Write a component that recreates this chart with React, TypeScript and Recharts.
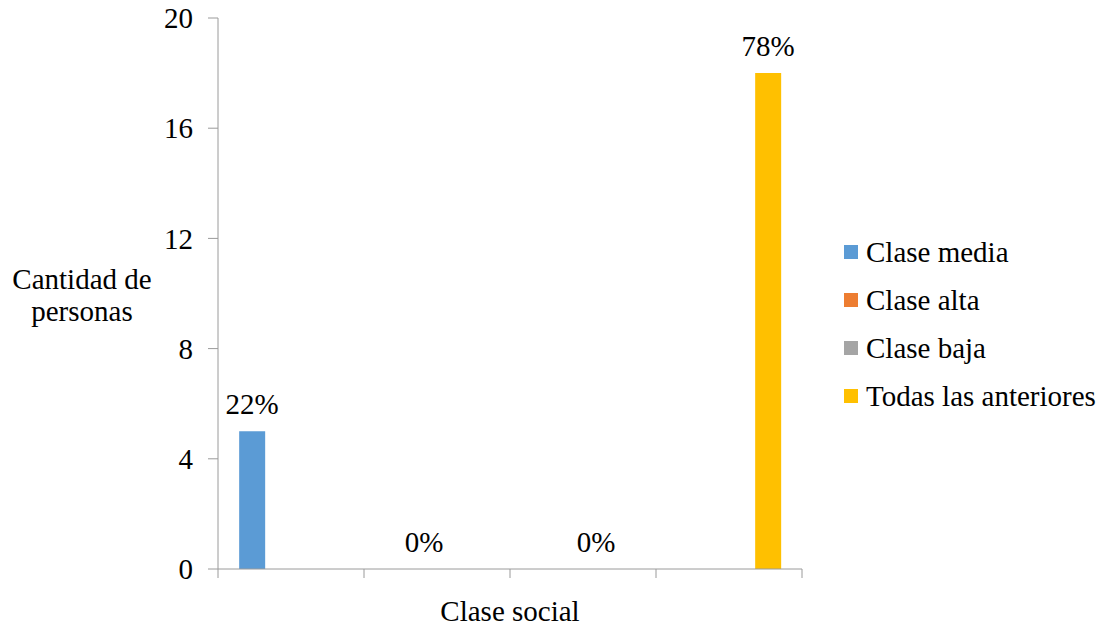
import React from 'react'
import {
  BarChart,
  Bar,
  XAxis,
  YAxis,
  Legend,
  LabelList,
  Label,
} from 'recharts'

const categories = ['A', 'B', 'C', 'D']
const claseMedia = [5, null, null, null]
const claseAlta = [null, 0, null, null]
const claseBaja = [null, null, 0, null]
const todas = [null, null, null, 18]
const yTicks = [0, 4, 8, 12, 16, 20]

const series = [
  { key: 'media', name: 'Clase media', color: '#5B9BD5', values: claseMedia, pct: '22%' },
  { key: 'alta', name: 'Clase alta', color: '#ED7D31', values: claseAlta, pct: '0%' },
  { key: 'baja', name: 'Clase baja', color: '#A5A5A5', values: claseBaja, pct: '0%' },
  { key: 'todas', name: 'Todas las anteriores', color: '#FFC000', values: todas, pct: '78%' },
]

const data = categories.map((cat, i) => {
  const row: Record<string, any> = { cat }
  series.forEach((s) => {
    row[s.key] = s.values[i]
  })
  return row
})

const FONT = '"Liberation Serif", "Times New Roman", serif'
const FS = 29
const AXIS = '#9a9a9a'

const makeLabel = (pct: string) => (props: any) => {
  const { x, y, width, value } = props
  if (value === null || value === undefined) return null
  return (
    <text
      x={Number(x) + Number(width) / 2}
      y={Number(y) - 17}
      textAnchor="middle"
      fontFamily={FONT}
      fontSize={FS}
      fill="#000"
    >
      {pct}
    </text>
  )
}

// tick marks sit on the category boundaries, like Excel
const EdgeTick = (props: any) => {
  const { x, y, width, visibleTicksCount, index } = props
  const band = Number(width) / Number(visibleTicksCount)
  const left = Number(x) - band / 2
  const top = Number(y) - 8
  return (
    <g>
      <line x1={left} x2={left} y1={top} y2={top + 9} stroke={AXIS} />
      {index === visibleTicksCount - 1 && (
        <line x1={left + band} x2={left + band} y1={top} y2={top + 9} stroke={AXIS} />
      )}
    </g>
  )
}

const renderLegend = () => (
  <div style={{ fontFamily: FONT, fontSize: FS, color: '#000' }}>
    {series.map((s) => (
      <div
        key={s.key}
        style={{ display: 'flex', alignItems: 'center', height: 48, whiteSpace: 'nowrap' }}
      >
        <span
          style={{
            display: 'inline-block',
            width: 14,
            height: 14,
            background: s.color,
            marginRight: 8,
          }}
        />
        <span>{s.name}</span>
      </div>
    ))}
  </div>
)

const YTitle = () => (
  <text fontFamily={FONT} fontSize={FS} fill="#000" textAnchor="middle">
    <tspan x={82} y={289}>Cantidad de</tspan>
    <tspan x={82} y={321}>personas</tspan>
  </text>
)

export default function App() {
  return (
    <div style={{ position: 'absolute', left: 0, top: 0, width: 1106, height: 628, background: '#fff' }}>
      <BarChart
        width={1106}
        height={628}
        data={data}
        margin={{ top: 18, right: 304, bottom: 0, left: 0 }}
        barCategoryGap="14.5%"
        barGap={0}
      >
        <XAxis
          dataKey="cat"
          height={59}
          stroke={AXIS}
          tickLine={false}
          tick={<EdgeTick />}
          interval={0}
        >
          <Label
            value="Clase social"
            position="insideBottom"
            offset={7}
            style={{ fontFamily: FONT, fontSize: FS, fill: '#000' }}
          />
        </XAxis>
        <YAxis
          width={218}
          domain={[0, 20]}
          ticks={yTicks}
          allowDataOverflow
          stroke={AXIS}
          tickSize={10}
          tickMargin={15}
          tick={{ fontFamily: FONT, fontSize: FS, fill: '#000' }}
        >
          <Label content={<YTitle />} />
        </YAxis>
        <Legend
          layout="vertical"
          align="center"
          verticalAlign="middle"
          content={renderLegend}
          wrapperStyle={{ left: 844, top: 228, width: 262 }}
        />
        {series.map((s) => (
          <Bar
            key={s.key}
            dataKey={s.key}
            name={s.name}
            fill={s.color}
            minPointSize={(v: any) => (v === 0 ? 0.01 : 0)}
            isAnimationActive={false}
          >
            <LabelList dataKey={s.key} content={makeLabel(s.pct)} />
          </Bar>
        ))}
      </BarChart>
    </div>
  )
}
